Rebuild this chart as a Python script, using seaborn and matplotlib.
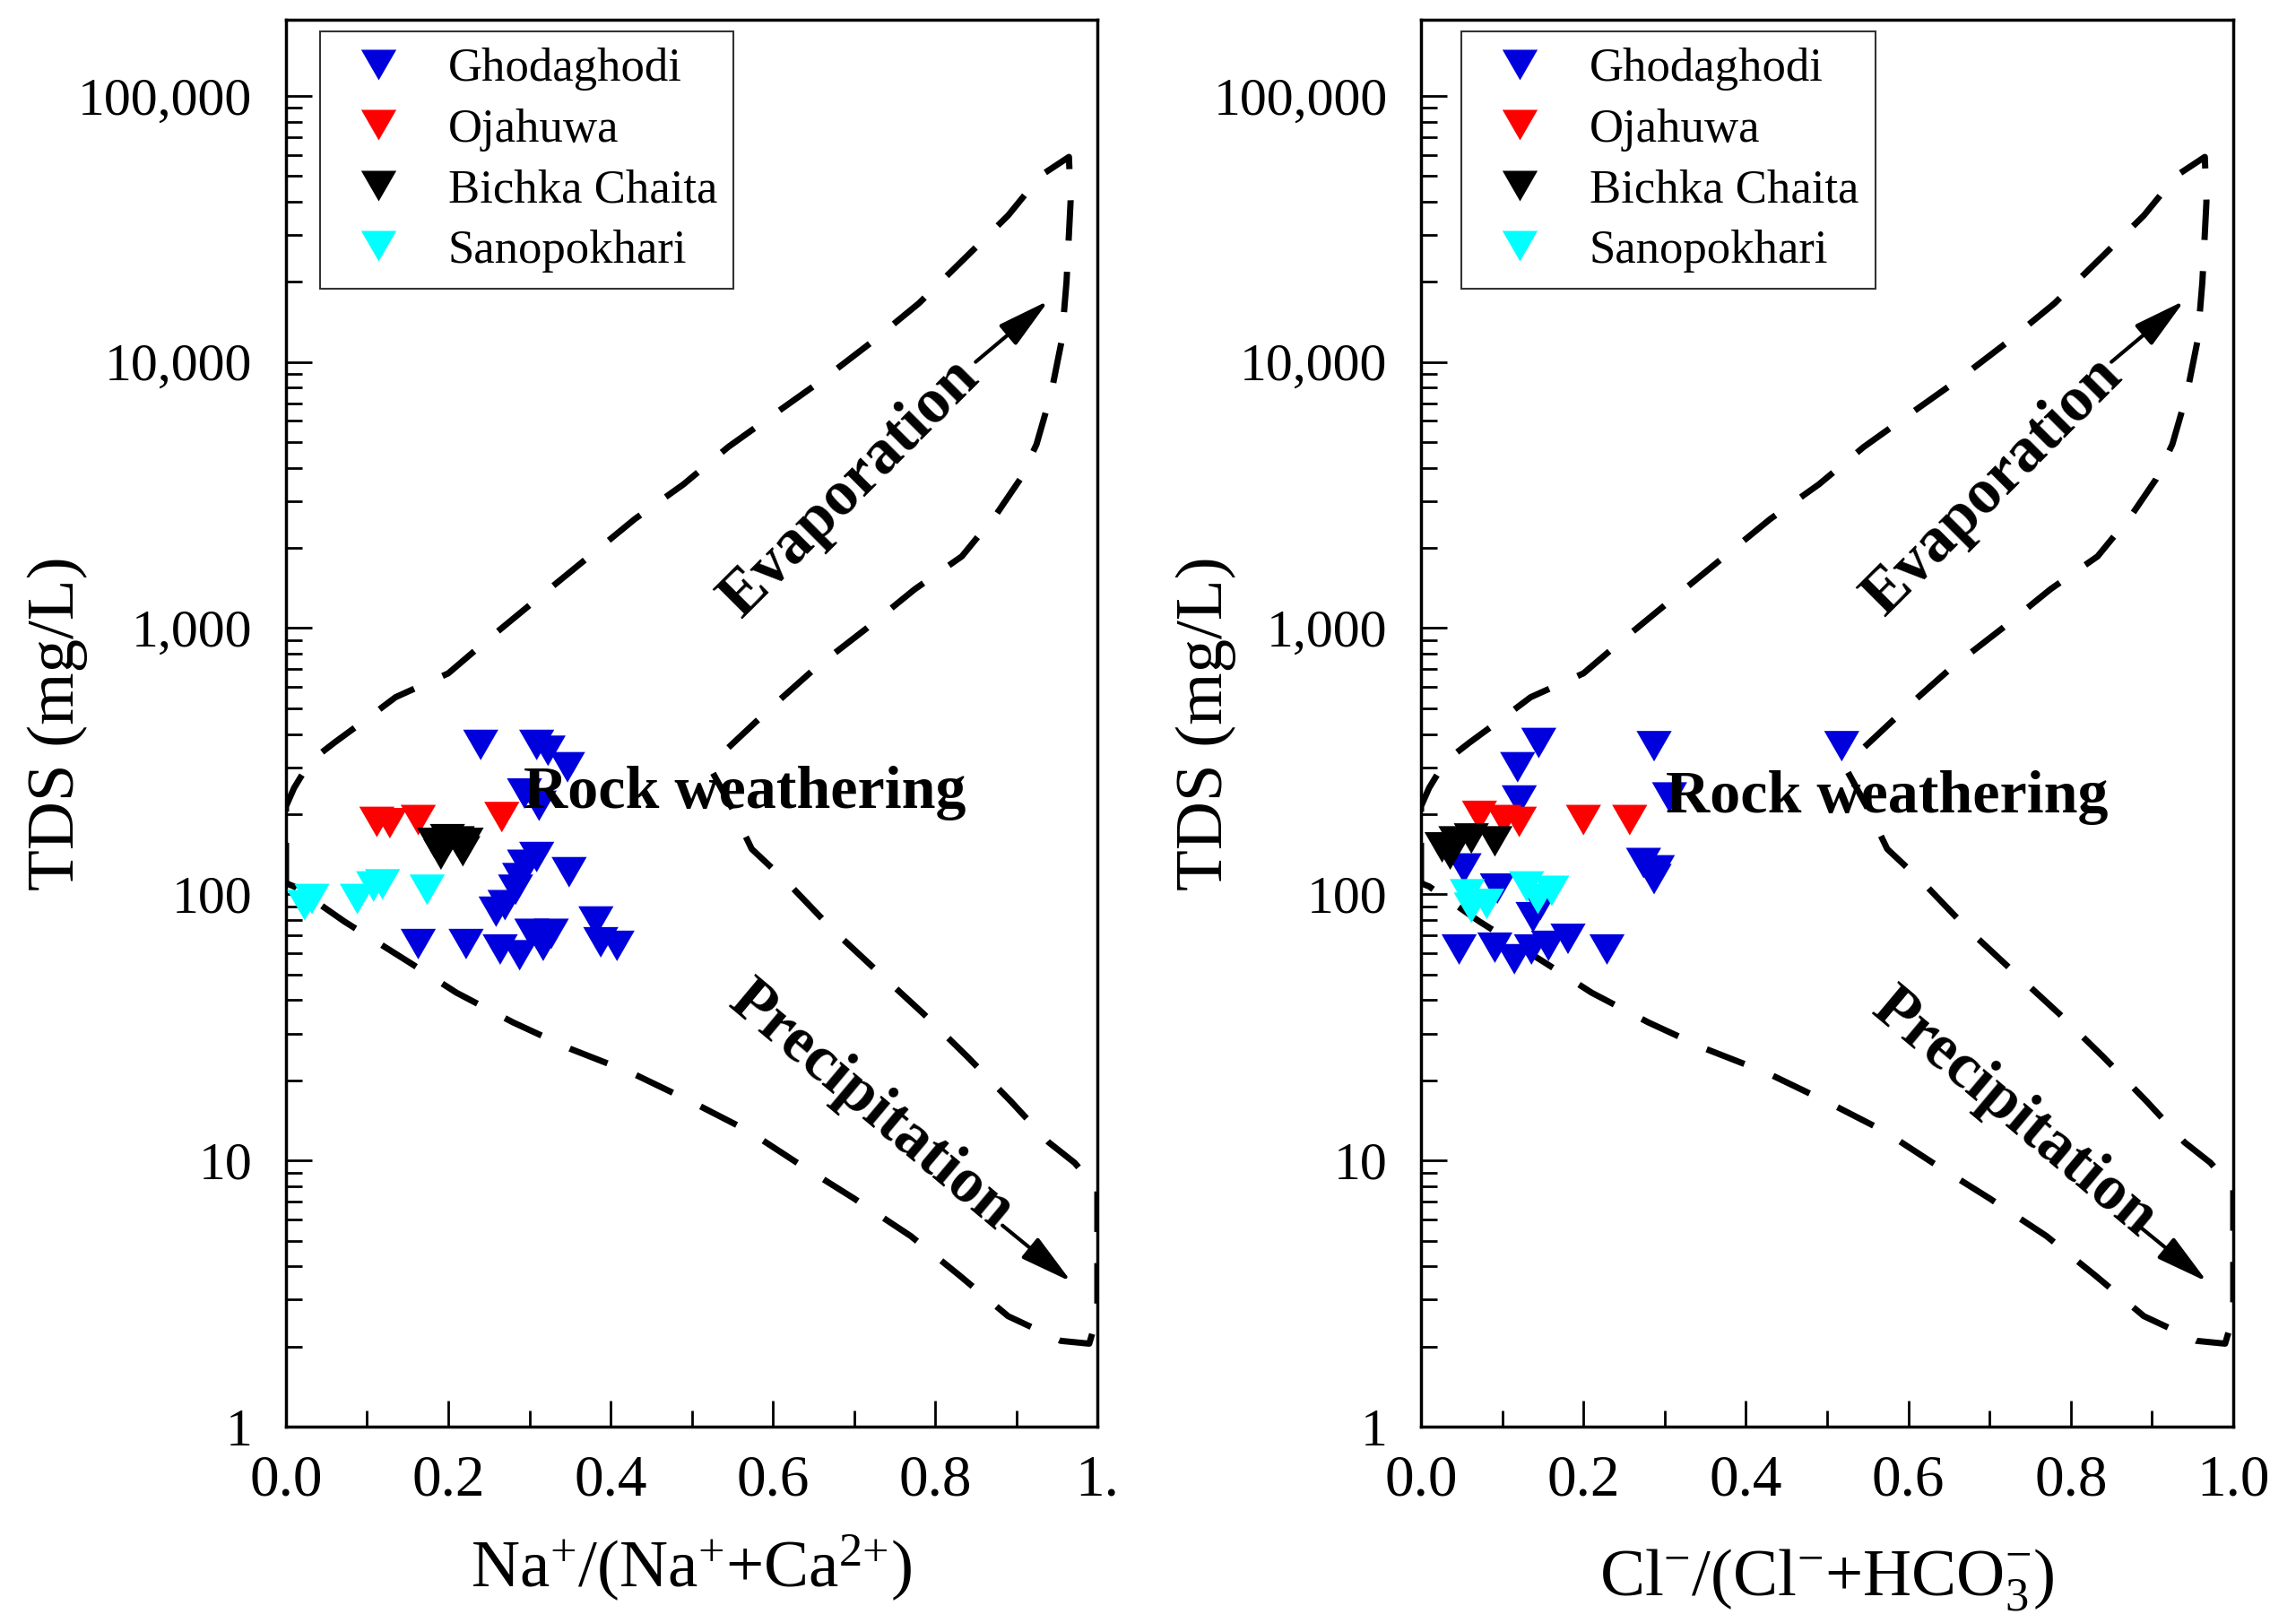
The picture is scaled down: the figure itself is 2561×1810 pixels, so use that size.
import numpy as np
import pandas as pd
import matplotlib
matplotlib.use("Agg")
import matplotlib.pyplot as plt
import seaborn as sns
from matplotlib.markers import MarkerStyle
from matplotlib.ticker import FixedLocator, FixedFormatter, LogLocator, MultipleLocator, NullFormatter

# --- data --------------------------------------------------------------
sites = ["Ghodaghodi", "Ojahuwa", "Bichka Chaita", "Sanopokhari"]
site_colors = ["#0000dd", "#ff0000", "#000000", "#00ffff"]

# left panel: Na+/(Na+ + Ca2+) vs TDS
na_ghodaghodi = [0.240, 0.309, 0.323, 0.347, 0.294, 0.312, 0.309, 0.294, 0.288, 0.283,
                 0.270, 0.259, 0.349, 0.382, 0.163, 0.222, 0.264, 0.288, 0.303, 0.327,
                 0.317, 0.388, 0.408]
tds_na_ghodaghodi = [364, 364, 346, 300, 239, 215, 138, 129, 115, 104,
                     91, 86, 121, 79, 65, 65, 62, 59, 71, 71,
                     64, 66, 64]
na_ojahuwa = [0.112, 0.128, 0.163, 0.266]
tds_na_ojahuwa = [187, 185, 190, 195]
na_bichka = [0.183, 0.199, 0.211, 0.222, 0.191, 0.218]
tds_na_bichka = [156, 161, 158, 156, 141, 145]
na_sanopokhari = [0.023, 0.032, 0.088, 0.108, 0.119, 0.174]
tds_na_sanopokhari = [91, 96, 96, 107, 109, 104]

# right panel: Cl-/(Cl- + HCO3-) vs TDS
cl_ghodaghodi = [0.145, 0.119, 0.287, 0.518, 0.121, 0.306, 0.274, 0.291, 0.287, 0.053,
                 0.094, 0.147, 0.138, 0.047, 0.091, 0.115, 0.136, 0.157, 0.181, 0.229]
tds_cl_ghodaghodi = [370, 300, 360, 360, 225, 231, 131, 123, 114, 125,
                     105, 91, 82, 62, 63, 57, 62, 64, 68, 62]
cl_ojahuwa = [0.072, 0.102, 0.121, 0.200, 0.257]
tds_cl_ojahuwa = [197, 190, 187, 190, 190]
cl_bichka = [0.026, 0.043, 0.062, 0.091, 0.036]
tds_cl_bichka = [150, 158, 162, 158, 141]
cl_sanopokhari = [0.057, 0.081, 0.062, 0.130, 0.161, 0.144]
tds_cl_sanopokhari = [100, 92, 89, 107, 103, 96]

# Gibbs envelope (dashed), one closed loop
boundary_x = [0.0, 0.0, 0.01, 0.03, 0.06, 0.10, 0.135, 0.20, 0.25, 0.31,
              0.37, 0.43, 0.49, 0.545, 0.60, 0.66, 0.72, 0.78, 0.84, 0.89,
              0.93, 0.965, 0.967, 0.962, 0.956, 0.943, 0.925, 0.905, 0.876, 0.833,
              0.775, 0.716, 0.653, 0.60, 0.545, 0.525, 0.55, 0.574, 0.619, 0.673,
              0.727, 0.786, 0.84, 0.894, 0.94, 0.972, 1.0, 1.0, 0.99, 0.955,
              0.89, 0.83, 0.77, 0.70, 0.63, 0.57, 0.50, 0.425, 0.35, 0.28,
              0.21, 0.154, 0.072, 0.01, 0.0]
boundary_tds = [110, 214, 251, 316, 372, 457, 550, 676, 912, 1290,
                1820, 2570, 3470, 4790, 6310, 8510, 11750, 16600, 25100, 35500,
                50100, 58900, 40000, 20000, 12000, 7600, 4900, 3630, 2690, 1860,
                1400, 1000, 710, 510, 355, 290, 210, 148, 110, 74,
                52, 35.5, 24.5, 16.6, 11.7, 9.8, 7.8, 2.6, 2.05, 2.1,
                2.6, 3.7, 5.2, 7.2, 9.8, 12.9, 16.6, 21.4, 26.3, 33,
                42.7, 55, 79, 107, 110]

y_ticks = [1, 10, 100, 1000, 10000, 100000]
y_tick_labels = ["1", "10", "100", "1,000", "10,000", "100,000"]
x_ticks = [0.0, 0.2, 0.4, 0.6, 0.8, 1.0]
x_labels_left = ["0.0", "0.2", "0.4", "0.6", "0.8", "1."]
x_labels_right = ["0.0", "0.2", "0.4", "0.6", "0.8", "1.0"]


def make_frame(xs, ys):
    rows = []
    for site, x, y in zip(sites, xs, ys):
        for a, b in zip(x, y):
            rows.append({"site": site, "ratio": a, "tds": b})
    return pd.DataFrame(rows)


df_na = make_frame([na_ghodaghodi, na_ojahuwa, na_bichka, na_sanopokhari],
                   [tds_na_ghodaghodi, tds_na_ojahuwa, tds_na_bichka, tds_na_sanopokhari])
df_cl = make_frame([cl_ghodaghodi, cl_ojahuwa, cl_bichka, cl_sanopokhari],
                   [tds_cl_ghodaghodi, tds_cl_ojahuwa, tds_cl_bichka, tds_cl_sanopokhari])

# --- style ---------------------------------------------------------------
sns.set_style("ticks")
plt.rcParams["font.family"] = ["Liberation Serif", "DejaVu Serif"]
plt.rcParams["mathtext.fontset"] = "custom"
plt.rcParams["mathtext.rm"] = "Liberation Serif"
plt.rcParams["mathtext.it"] = "Liberation Serif:italic"
plt.rcParams["mathtext.bf"] = "Liberation Serif:bold"
for key in ["text.color", "axes.labelcolor", "xtick.color", "ytick.color", "axes.edgecolor"]:
    plt.rcParams[key] = "black"

# equilateral down-pointing triangle, like Origin's
tri_down = MarkerStyle([(-1, 0.866), (1, 0.866), (0, -0.866)])

fig = plt.figure(figsize=(25.61, 18.10), dpi=100)
ax_l = fig.add_axes([0.12456, 0.12099, 0.35338, 0.86685])
ax_r = fig.add_axes([0.61890, 0.12099, 0.35377, 0.86685])


def draw_panel(ax, df, xlabel, xlabels, legend_x, xlab_y, ylab_x, rock_xy, evap_xy, prec_xy):
    ax.set_yscale("log")
    ax.plot(boundary_x, boundary_tds, color="black", lw=5.0,
            linestyle=(0, (6.5, 5.0)), zorder=2)
    sns.scatterplot(data=df, x="ratio", y="tds", hue="site", hue_order=sites,
                    palette=site_colors, marker=tri_down, s=800,
                    edgecolor="none", linewidth=0, ax=ax, zorder=3)
    ax.set_xlim(0, 1)
    ax.set_ylim(1, 1.93e5)

    ax.xaxis.set_major_locator(FixedLocator(x_ticks))
    ax.xaxis.set_major_formatter(FixedFormatter(xlabels))
    ax.xaxis.set_minor_locator(MultipleLocator(0.1))
    ax.yaxis.set_major_locator(FixedLocator(y_ticks))
    ax.yaxis.set_major_formatter(FixedFormatter(y_tick_labels))
    ax.yaxis.set_minor_locator(LogLocator(base=10, subs=np.arange(2, 10), numticks=30))
    ax.yaxis.set_minor_formatter(NullFormatter())

    ax.tick_params(which="both", direction="in", top=False, right=False, width=2.0, color="black")
    ax.tick_params(which="major", length=21)
    ax.tick_params(which="minor", length=13)
    ax.tick_params(axis="x", which="major", labelsize=47, pad=22)
    ax.tick_params(axis="y", which="major", labelsize=43, pad=27)
    for sp in ax.spines.values():
        sp.set_linewidth(2.5)
        sp.set_color("black")

    ax.set_xlabel(xlabel, fontsize=54)
    ax.xaxis.label.set_va("baseline")
    ax.xaxis.set_label_coords(0.5, xlab_y)
    ax.set_ylabel("TDS (mg/L)", fontsize=54)
    ax.yaxis.label.set_va("baseline")
    ax.yaxis.set_label_coords(ylab_x, 0.5)

    ax.text(rock_xy[0], rock_xy[1], "Rock weathering", fontsize=49, fontweight="bold",
            ha="center", va="center", zorder=4)
    ax.text(evap_xy[0], evap_xy[1], "Evaporation", fontsize=51, fontweight="bold",
            ha="center", va="center", rotation=45, rotation_mode="anchor", zorder=4)
    ax.text(prec_xy[0], prec_xy[1], "Precipitation", fontsize=51, fontweight="bold",
            ha="center", va="center", rotation=-40, rotation_mode="anchor", zorder=4)

    arrow = dict(arrowstyle="-|>,head_length=1.8,head_width=0.45", color="black",
                 lw=3, mutation_scale=20, shrinkA=0, shrinkB=0)
    ax.annotate("", xy=(0.94, 17000), xytext=(0.85, 10000), arrowprops=arrow, zorder=4)
    ax.annotate("", xy=(0.968, 3.5), xytext=(0.883, 5.7), arrowprops=arrow, zorder=4)

    sns.move_legend(ax, "upper left", bbox_to_anchor=(legend_x, 0.992), title=None,
                    frameon=True, fontsize=38, fancybox=False, framealpha=1,
                    edgecolor="#333333", borderaxespad=0, borderpad=0.35,
                    handlelength=1.75, handletextpad=0.6, labelspacing=0.37)
    ax.get_legend().get_frame().set_linewidth(1.5)


draw_panel(ax_l, df_na, r"Na$^{+}$/(Na$^{+}$+Ca$^{2{+}}$)", x_labels_left,
           0.042, -0.114, -0.262, (0.565, 240), (0.695, 3350), (0.721, 16))
draw_panel(ax_r, df_cl, r"Cl$^{-}$/(Cl$^{-}$+HCO$_{3}^{-}$)", x_labels_right,
           0.05, -0.12, -0.245, (0.574, 230), (0.705, 3400), (0.73, 15))

fig.savefig("out.png", dpi=100)
